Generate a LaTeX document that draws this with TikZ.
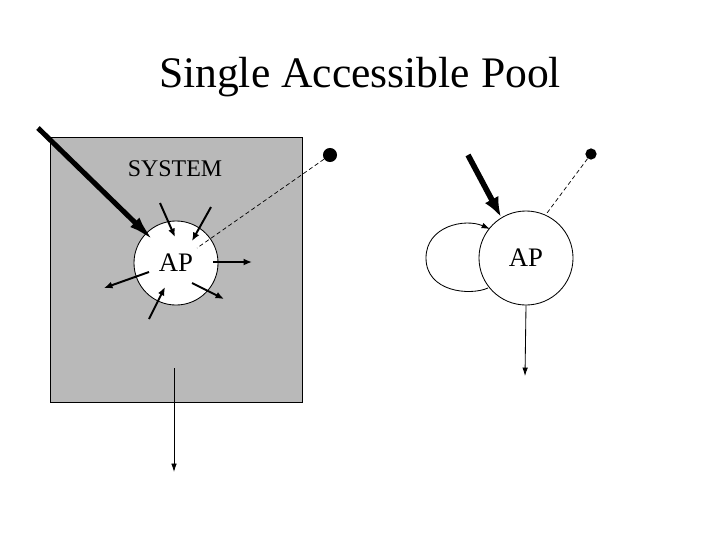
\documentclass[tikz,border=0pt]{standalone}
\usepackage{fontspec}
\setmainfont{Liberation Serif}
\usetikzlibrary{arrows.meta}
\tikzset{
  pool/.style={draw, circle, fill=white, line width=0.6pt, inner sep=0pt},
  flow/.style={-{Latex[length=6pt,width=5pt]}, line width=1.4pt},
  bigflow/.style={-{Latex[length=20pt,width=9pt]}, line width=3.6pt},
  thinflow/.style={-{Latex[length=6pt,width=4pt]}, line width=0.6pt},
  link/.style={dash pattern=on 3pt off 2pt, line width=0.5pt},
  knob/.style={circle, fill, inner sep=0pt},
}
\begin{document}
\begin{tikzpicture}[x=0.025cm, y=-0.025cm]
\useasboundingbox (0,0) rectangle (720,540);
\node[anchor=base] (title) at (360,87) {\fontsize{31}{36}\selectfont Single Accessible Pool};

% system box with its pool
\draw[fill=gray!55, line width=0.6pt] (50,137) rectangle (302,402);
\node[anchor=base, font=\fontsize{17}{20}\selectfont] (sys) at (175,176) {SYSTEM};
\node[pool, minimum size=2.1cm, font=\fontsize{19}{22}\selectfont] (ap1) at (176,263) {AP};

\coordinate (in1) at (38,128);
\draw[bigflow] (in1) -- (155,242);

\draw[flow] (160,203) -- (175,237);
\draw[flow] (211,207) -- (192,241);
\draw[flow] (149,319) -- (165,287);
\draw[flow] (213,262) -- (252,262);
\draw[flow] (149,272) -- (104,288);
\draw[flow] (192,283) -- (224,299);

\node[knob, minimum size=10] (dot1) at (330,155) {};
\draw[link] (dot1) -- (197,248);

\coordinate (out1) at (174,472);
\draw[thinflow] (174,368) -- (out1);

% the same pool on its own
\node[pool, minimum size=2.35cm, font=\fontsize{19}{22}\selectfont] (ap2) at (526,258) {AP};

\coordinate (in2) at (468,155);
\draw[-{Latex[length=14pt,width=11pt]}, line width=4pt] (in2) -- (501,217);

\draw[thinflow] (488,288) .. controls (470,296) and (426,292) .. (426,258)
  .. controls (426,226) and (465,218) .. (490,229);

\node[knob, minimum size=8] (dot2) at (591,154) {};
\draw[link] (dot2) -- (547,213);

\coordinate (out2) at (525,376);
\draw[thinflow] (ap2.south) -- (out2);
\end{tikzpicture}
\end{document}
